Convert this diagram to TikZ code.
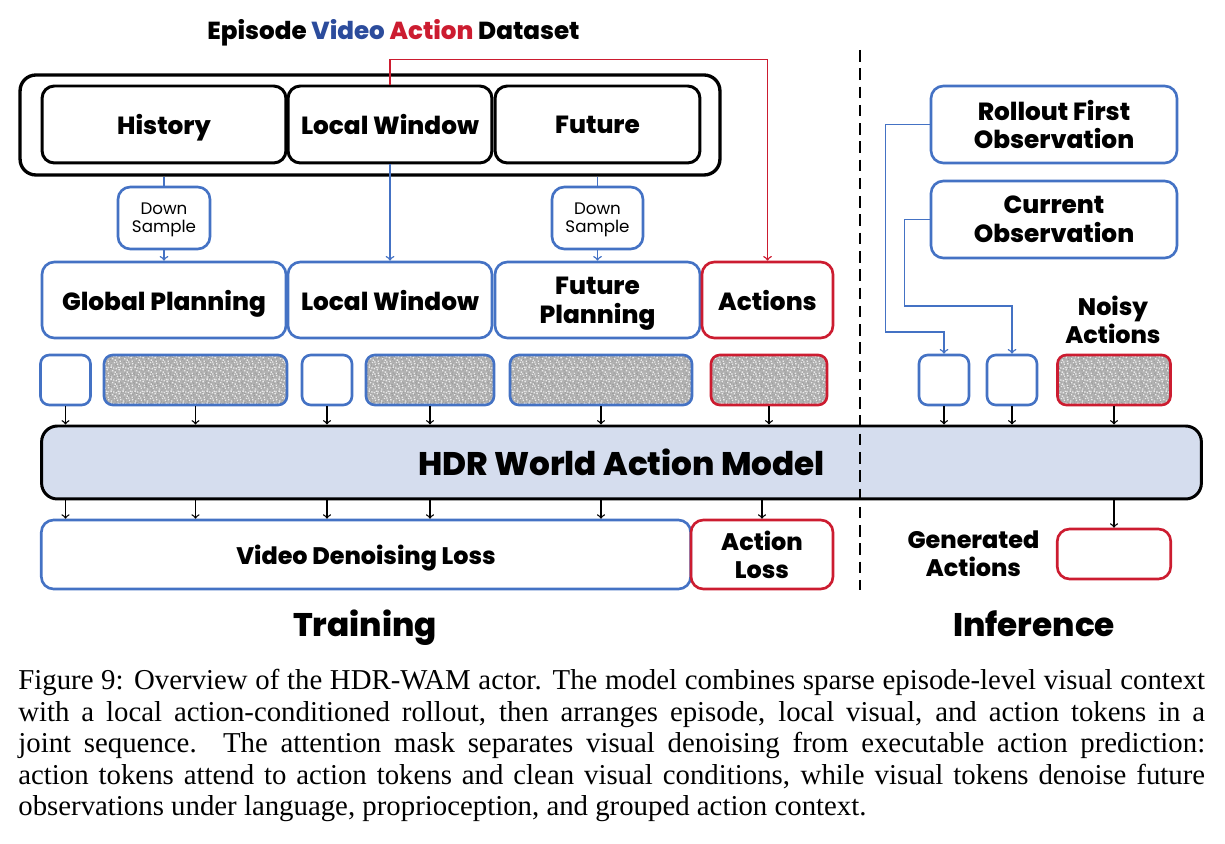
\documentclass[tikz,border=0pt]{standalone}
\usepackage{fontspec}
\usetikzlibrary{patterns.meta}
\setmainfont{Poppins}
\IfFontExistsTF{Poppins ExtraBold}{\newfontfamily\heavy{Poppins ExtraBold}}{\newcommand\heavy{\bfseries}}
\newfontfamily\capfont{Liberation Serif}
\definecolor{wamblue}{RGB}{68,114,196}
\definecolor{wamred}{RGB}{204,28,48}
\definecolor{titleblue}{RGB}{44,76,156}
\definecolor{modelfill}{RGB}{213,221,238}
\definecolor{noisegray}{RGB}{178,178,178}
\newcommand\lblfont{\heavy\fontsize{14.1}{16.4}\selectfont}
\newcommand\midlbl{\heavy\fontsize{13.6}{16.2}\selectfont}
\newcommand\biglbl{\heavy\fontsize{18.6}{22}\selectfont}
\newcommand\dsfont{\fontsize{9.5}{10.4}\selectfont}
\tikzdeclarepattern{name=speckdark,type=uncolored,bottom left={(0pt,0pt)},top right={(5pt,5pt)},tile size={(5pt,5pt)},
  code={\tikzset{x=1pt,y=1pt}
    \foreach \p in {(0.2,0.5),(1.4,3.1),(2.6,1.2),(3.9,4.2),(4.3,0.3),(0.8,2.3),(2.1,4.3),(3.3,2.6),(1.1,1.5),(4.2,2.0),(2.9,0.1),(0.4,4.0)}
      \fill \p rectangle ++(0.6,0.6);}}
\tikzdeclarepattern{name=specklight,type=uncolored,bottom left={(0pt,0pt)},top right={(7pt,7pt)},tile size={(7pt,7pt)},
  code={\tikzset{x=1pt,y=1pt}
    \foreach \p in {(0.6,0.2),(2.3,1.7),(4.1,0.6),(5.8,2.4),(1.2,3.9),(3.4,5.2),(5.1,4.6),(0.3,6.1),(2.8,3.1),(6.1,0.9),(4.6,6.0),(1.9,5.6),(3.7,2.0),(5.6,5.8)}
      \fill \p rectangle ++(0.8,0.8);}}
\begin{document}
\begin{tikzpicture}[x=0.02cm,y=-0.02cm,
  every node/.style={inner sep=0pt,text depth=0pt},
  blackbox/.style={draw=black,line width=1.7pt,rounded corners=7pt,minimum height=1.54cm,font=\lblfont,align=center},
  bluebox/.style={draw=wamblue,line width=1.5pt,rounded corners=7pt,font=\lblfont,align=center},
  redbox/.style={bluebox,draw=wamred},
  token/.style={draw=wamblue,line width=1.5pt,rounded corners=5pt,minimum height=1cm,minimum width=1cm},
  noisy/.style={token,preaction={fill=noisegray},preaction={pattern=speckdark,pattern color=black!40},pattern=specklight,pattern color=white!85!gray},
  blueline/.style={wamblue,line width=0.85pt},
  redline/.style={wamred,line width=0.85pt},
  arr/.style={->,line width=0.75pt}]
  \useasboundingbox (0,0) rectangle (1225,844);
  %dataset
  \node[font=\heavy\fontsize{14}{16}\selectfont,anchor=base] (title) at (393.5,39.3) {Episode \textcolor{titleblue}{Video} \textcolor{wamred}{Action} Dataset};
  \node[blackbox,minimum width=14cm,minimum height=2cm,line width=1.9pt,rounded corners=9pt] (dataset) at (370,125) {};
  \node[blackbox,minimum width=4.88cm] (hist) at (164,124.5) {History};
  \node[blackbox,minimum width=4.08cm] (lw) at (390,124.5) {Local Window};
  \node[blackbox,minimum width=4.1cm] (fut) at (597.5,124.5) {Future};
  \node[bluebox,font=\dsfont,minimum width=1.84cm,minimum height=1.24cm] (ds1) at (164,218) {Down\\Sample};
  \node[bluebox,font=\dsfont,minimum width=1.82cm,minimum height=1.24cm] (ds2) at (597.5,218) {Down\\Sample};
  \node[bluebox,minimum width=4.88cm,minimum height=1.52cm] (gp) at (164,300) {Global Planning};
  \node[bluebox,minimum width=4.08cm,minimum height=1.52cm] (lwin) at (390,300) {Local Window};
  \node[bluebox,minimum width=4.1cm,minimum height=1.52cm] (fp) at (597.5,300) {Future\\Planning};
  \node[redbox,minimum width=2.62cm,minimum height=1.52cm] (act) at (767.5,300) {Actions};
  \draw[blueline] (ds1.north |- dataset.south) -- (ds1.north);
  \draw[blueline,->] (ds1) -- (gp);
  \draw[blueline,->] (lw) -- (lwin);
  \draw[blueline] (ds2.north |- dataset.south) -- (ds2.north);
  \draw[blueline,->] (ds2) -- (fp);
  \draw[redline,->] (lw.north) -- ++(0,-25) -| (act.north);
  %tokens
  \node[token] (t1) at (65.5,380) {};
  \node[noisy,minimum width=3.66cm] (n1) at (195.5,380) {};
  \node[token] (t2) at (327,380) {};
  \node[noisy,minimum width=2.56cm] (n2) at (430,380) {};
  \node[noisy,minimum width=3.64cm] (n3) at (601,380) {};
  \node[noisy,draw=wamred,minimum width=2.32cm] (na) at (769,380) {};
  \node[token] (i1) at (944,380) {};
  \node[token] (i2) at (1012,380) {};
  \node[noisy,draw=wamred,minimum width=2.26cm] (in) at (1114,380) {};
  %modello
  \node[draw,line width=1.7pt,fill=modelfill,rounded corners=9pt,minimum width=23.2cm,minimum height=1.46cm,font=\biglbl] (wam) at (621.5,462.5) {HDR World Action Model};
  \foreach \t in {t1,n1,t2,n2,n3,na,i1,i2,in}
    \draw[arr] (\t.south) -- (\t.south |- wam.north);
  %loss
  \node[bluebox,font=\midlbl,minimum width=12.99cm,minimum height=1.38cm] (vdl) at (366,554.5) {Video Denoising Loss};
  \node[redbox,font=\midlbl,minimum width=2.84cm,minimum height=1.38cm] (al) at (762,554.5) {Action\\Loss};
  \foreach \t in {t1,n1,t2,n2,n3}
    \draw[arr] (\t.south |- wam.south) -- (\t.south |- vdl.north);
  \draw[arr] (al.north |- wam.south) -- (al.north);
  %inferenza
  \node[bluebox,minimum width=4.92cm,minimum height=1.54cm] (roll) at (1054,124.5) {Rollout First\\Observation};
  \node[bluebox,minimum width=4.92cm,minimum height=1.54cm] (cur) at (1054,219.5) {Current\\Observation};
  \node[font=\midlbl,align=center] (noisytxt) at (1113,320) {Noisy\\Actions};
  \draw[blueline,->] (roll.west) -| ++(-44,207.5) -| (i1.north);
  \draw[blueline,->] (cur.west) -| ++(-25,86.5) -| (i2.north);
  \node[redbox,minimum width=2.27cm,minimum height=1cm] (gen) at (1114,554) {};
  \node[font=\midlbl,align=center] (gentxt) at (973.5,553.7) {Generated\\Actions};
  \draw[arr] (gen.north |- wam.south) -- (gen.north);
  \draw[line width=1.6pt,dash pattern=on 6.6pt off 3.8pt] (860,50) -- (860,590);
  \node[font=\biglbl,anchor=base] (train) at (365,636.7) {Training};
  \node[font=\biglbl,anchor=base] (infer) at (1034,636.7) {Inference};
  %didascalia
  \node[anchor=north west,text width=23.74cm,align=justify,font=\capfont\fontsize{16.4}{17.9}\selectfont] (caption) at (18,669.3) {Figure 9: Overview of the HDR-WAM actor. The model combines sparse episode-level visual context\linebreak with a local action-conditioned rollout, then arranges episode, local visual, and action tokens in a\linebreak joint sequence. The attention mask separates visual denoising from executable action prediction:\linebreak action tokens attend to action tokens and clean visual conditions, while visual tokens denoise future\linebreak observations under language, proprioception, and grouped action context.};
\end{tikzpicture}
\end{document}
